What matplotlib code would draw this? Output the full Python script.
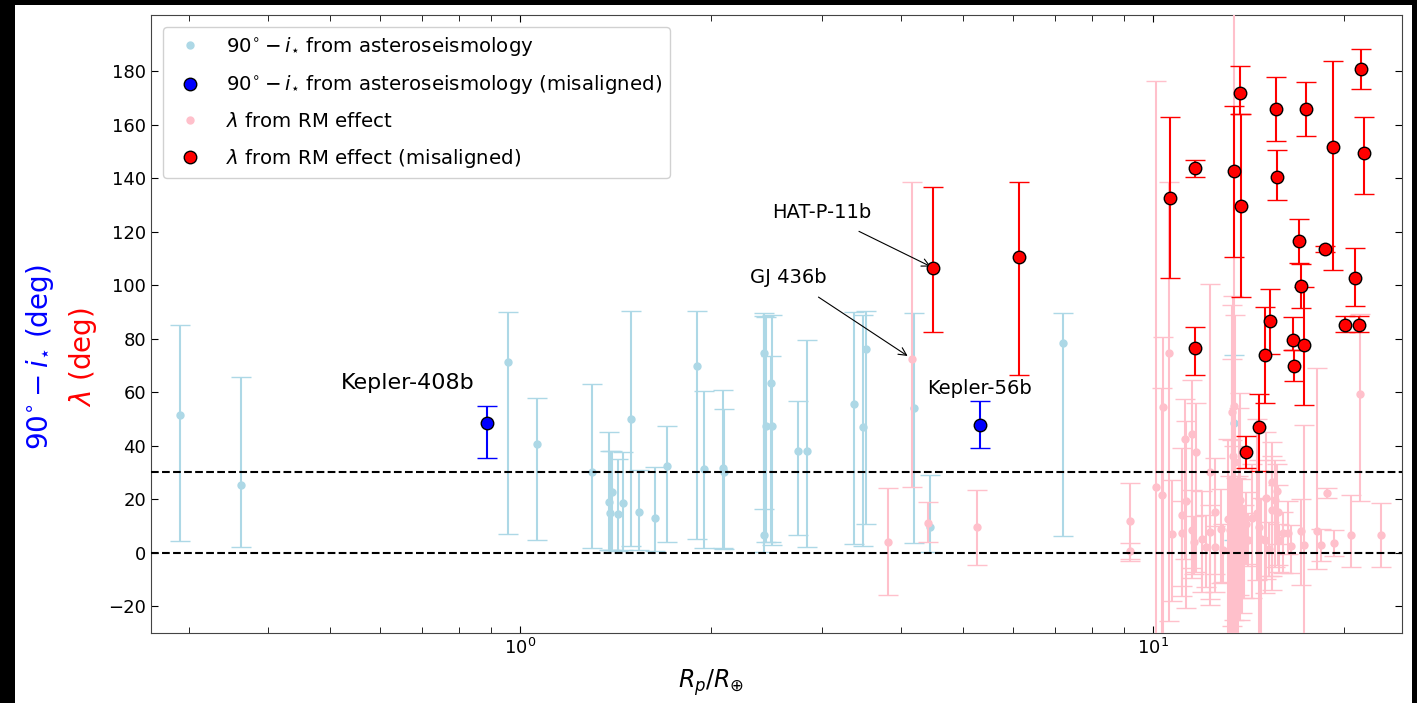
import matplotlib
matplotlib.use("Agg")
import matplotlib.pyplot as plt
from matplotlib.patches import Rectangle
import numpy as np

# 90 - i_star from asteroseismology (aligned)
astero_r = [0.290, 0.362, 0.957, 1.064, 1.30, 1.38, 1.395, 1.387, 1.428, 1.451,
            1.496, 1.538, 1.632, 1.705, 1.904, 1.948, 2.09, 2.095, 2.43, 2.43,
            2.44, 2.49, 2.50, 2.75, 2.84, 3.36, 3.48, 3.51, 4.18, 4.43, 7.19, 13.4]
astero_val = [51.6, 25.4, 71.4, 40.5, 30.2, 18.8, 22.7, 15.0, 14.6, 18.7,
              50.0, 15.2, 12.8, 32.3, 69.8, 31.4, 31.7, 30.2, 74.5, 6.6,
              47.4, 63.3, 47.2, 38.1, 38.1, 55.6, 47.0, 76.0, 54.0, 9.5, 78.5, 48.5]
astero_lo = [47.2, 23.4, 64.3, 35.8, 28.6, 17.8, 21.7, 14.0, 14.1, 17.7,
             47.6, 14.3, 12.0, 28.3, 64.6, 29.7, 30.0, 28.9, 58.2, 6.2,
             43.5, 59.3, 44.2, 31.5, 35.9, 52.4, 44.6, 65.3, 50.4, 9.2, 72.3, 43.6]
astero_hi = [33.4, 40.1, 18.6, 17.2, 32.8, 26.2, 15.3, 23.0, 20.4, 18.8,
             40.5, 15.6, 19.2, 14.9, 20.7, 29.0, 29.3, 23.5, 15.0, 82.0,
             40.6, 10.2, 41.6, 18.7, 41.4, 34.4, 42.0, 14.5, 35.5, 19.5, 11.0, 25.5]

# asteroseismology, misaligned
astero_mis_name = ["Kepler-408b", "Kepler-56b"]
astero_mis_r = [0.886, 5.32]
astero_mis_val = [48.6, 47.7]
astero_mis_lo = [13.3, 8.7]
astero_mis_hi = [6.4, 8.9]

# lambda from RM effect (aligned)
rm_r = [3.81, 4.16, 4.41, 5.26, 9.17, 9.17, 10.1, 10.3, 10.35, 10.57,
        10.7, 11.1, 11.25, 11.2, 11.5, 11.66, 11.1, 11.5, 11.6, 12.1,
        11.95, 12.3, 12.3, 12.5, 12.5, 12.8, 12.9, 13.1, 13.2, 13.3,
        13.4, 13.35, 13.45, 13.3, 13.4, 13.3, 13.5, 13.6, 13.65, 13.7,
        13.8, 13.9, 14.0, 14.1, 14.3, 14.6, 14.7, 14.8, 15.0, 15.05,
        15.2, 15.4, 15.4, 15.55, 15.7, 15.75, 15.8, 16.0, 16.3, 16.5,
        17.1, 17.3, 18.1, 18.4, 18.8, 19.3, 20.5, 21.2, 22.9]
rm_val = [4.1, 72.4, 11.0, 9.5, 12.0, 0.7, 24.4, 21.7, 54.5, 74.5,
          7.1, 14.0, 19.2, 42.5, 44.4, 37.8, 7.4, 8.6, 3.9, 2.1,
          5.2, 7.7, 30.3, 15.3, 2.1, 8.7, 0.9, 12.5, 8.6, 52.7,
          54.7, 36.0, 34.0, 22.3, 14.8, 12.3, 3.0, 8.6, 14.2, 19.8,
          7.4, 3.0, 10.8, 4.9, 13.0, 14.8, 9.6, 5.3, 4.9, 20.3,
          1.4, 16.0, 26.4, 19.8, 23.2, 15.3, 4.9, 7.4, 7.4, 2.4,
          8.1, 2.9, 8.1, 3.0, 22.3, 3.6, 6.5, 59.3, 6.5]
rm_lo = [20, 48, 7, 14, 15, 3, 60, 55, 90, 100,
         25, 30, 40, 45, 50, 45, 20, 18, 12, 15,
         20, 25, 50, 30, 10, 20, 12, 60, 45, 80,
         90, 70, 75, 55, 40, 45, 35, 40, 30, 45,
         30, 20, 15, 10, 30, 25, 50, 40, 20, 30,
         10, 30, 35, 25, 20, 20, 12, 15, 8, 10,
         20, 50, 14, 6, 2, 5, 12, 40, 12]
rm_hi = [20, 66, 8, 14, 14, 3, 152, 40, 26, 64,
         20, 25, 30, 15, 20, 18, 12, 15, 10, 12,
         18, 10, 70, 20, 8, 15, 10, 30, 20, 40,
         150, 60, 55, 50, 25, 30, 25, 20, 40, 40,
         20, 15, 12, 10, 20, 35, 25, 15, 15, 25,
         10, 20, 15, 15, 10, 10, 6, 8, 12, 8,
         12, 45, 61, 6, 2, 5, 15, 30, 12]

# lambda from RM effect, misaligned
rm_mis_r = [4.49, 6.14, 10.64, 11.65, 13.4, 13.7, 13.75, 15.6, 15.7, 17.4,
            19.2, 21.3, 21.5, 17.0, 18.7, 17.1, 20.8, 11.65, 15.0, 15.3,
            14.7, 14.0, 16.6, 16.7, 17.3, 20.1, 21.1]
rm_mis_val = [106.5, 110.7, 132.7, 143.8, 142.8, 171.7, 129.7, 165.9, 140.4, 165.9,
              151.8, 180.8, 149.5, 116.6, 113.5, 99.7, 102.8, 76.4, 74.0, 86.5,
              47.1, 37.5, 79.5, 69.8, 77.5, 85.3, 85.3]
rm_mis_lo = [24.0, 44.4, 30.2, 3.4, 32.3, 7.7, 34.1, 12.1, 8.7, 10.0,
             46.3, 7.6, 15.5, 8.3, 1.0, 8.4, 10.6, 10.1, 18.2, 12.1,
             16.7, 5.8, 3.6, 5.8, 22.2, 2.8, 2.8]
rm_mis_hi = [30.1, 27.9, 30.0, 2.9, 24.0, 10.3, 34.3, 12.1, 10.3, 9.9,
             32.1, 7.5, 13.4, 8.1, 1.0, 8.3, 11.0, 8.0, 18.0, 12.0,
             12.1, 6.0, 8.5, 6.1, 21.9, 3.0, 3.0]


def main():
    fig = plt.figure(figsize=(14.17, 7.03), dpi=100, facecolor="black")
    fig.patches.append(Rectangle((15 / 1417, 0), 1397 / 1417, 698 / 703,
                                 transform=fig.transFigure, facecolor="white",
                                 edgecolor="none", zorder=-10))
    ax = fig.add_axes([0.1066, 0.0996, 0.8828, 0.8791])

    ax.errorbar(astero_r, astero_val, yerr=[astero_lo, astero_hi], fmt="none",
                ecolor="lightblue", elinewidth=1.5, capsize=7, zorder=2)
    ax.plot(astero_r, astero_val, "o", color="lightblue", markersize=5, zorder=2,
            label=r"$90^{\circ} - i_{\star}$ from asteroseismology")

    ax.errorbar(astero_mis_r, astero_mis_val, yerr=[astero_mis_lo, astero_mis_hi],
                fmt="none", ecolor="blue", elinewidth=1.5, capsize=7, zorder=4)
    ax.plot(astero_mis_r, astero_mis_val, "o", color="blue", markeredgecolor="black",
            markersize=9, zorder=5,
            label=r"$90^{\circ} - i_{\star}$ from asteroseismology (misaligned)")

    ax.errorbar(rm_r, rm_val, yerr=[rm_lo, rm_hi], fmt="none",
                ecolor="pink", elinewidth=1.5, capsize=7, zorder=3)
    ax.plot(rm_r, rm_val, "o", color="pink", markersize=5, zorder=3,
            label=r"$\lambda$ from RM effect")

    ax.errorbar(rm_mis_r, rm_mis_val, yerr=[rm_mis_lo, rm_mis_hi], fmt="none",
                ecolor="red", elinewidth=1.5, capsize=7, zorder=4)
    ax.plot(rm_mis_r, rm_mis_val, "o", color="red", markeredgecolor="black",
            markersize=9, zorder=5, label=r"$\lambda$ from RM effect (misaligned)")

    ax.axhline(30, color="black", linestyle="--", linewidth=1.5, zorder=6)
    ax.axhline(0, color="black", linestyle="--", linewidth=1.5, zorder=6)

    # labels for named planets
    ax.text(0.665, 63.5, astero_mis_name[0], fontsize=16, ha="center", va="center")
    ax.text(astero_mis_r[1], 61.3, astero_mis_name[1],
            fontsize=14, ha="center", va="center")
    ax.annotate("HAT-P-11b", xy=(rm_mis_r[0], rm_mis_val[0]), xytext=(2.99, 127),
                fontsize=14, ha="center", va="center",
                arrowprops=dict(arrowstyle="->", color="black", lw=0.8,
                                shrinkA=10, shrinkB=2))
    ax.annotate("GJ 436b", xy=(rm_r[1], rm_val[1]), xytext=(2.65, 103),
                fontsize=14, ha="center", va="center",
                arrowprops=dict(arrowstyle="->", color="black", lw=0.8,
                                shrinkA=10, shrinkB=4))

    ax.set_xscale("log")
    ax.set_xlim(0.261, 24.7)
    ax.set_ylim(-30, 201)
    ax.set_yticks([-20, 0, 20, 40, 60, 80, 100, 120, 140, 160, 180])
    ax.tick_params(which="both", direction="in", top=True, right=True, labelsize=13)
    ax.tick_params(which="major", length=5)
    ax.tick_params(which="minor", length=4)
    for s in ax.spines.values():
        s.set_color("#444444")

    ax.set_xlabel(r"$R_p/R_{\oplus}$", fontsize=17)
    ax.xaxis.set_label_coords(0.448, -0.055)
    fig.text(40 / 1417, 1 - 357 / 703, r"$90^{\circ} - i_{\star}$ (deg)", color="blue",
             fontsize=20, rotation=90, ha="center", va="center")
    fig.text(83 / 1417, 1 - 357 / 703, r"$\lambda$ (deg)", color="red",
             fontsize=20, rotation=90, ha="center", va="center")

    ax.legend(loc="upper left", fontsize=14.2, labelspacing=0.8,
              borderaxespad=0.6, framealpha=0.9)

    fig.savefig("out.png", dpi=100, facecolor=fig.get_facecolor())


if __name__ == "__main__":
    main()
